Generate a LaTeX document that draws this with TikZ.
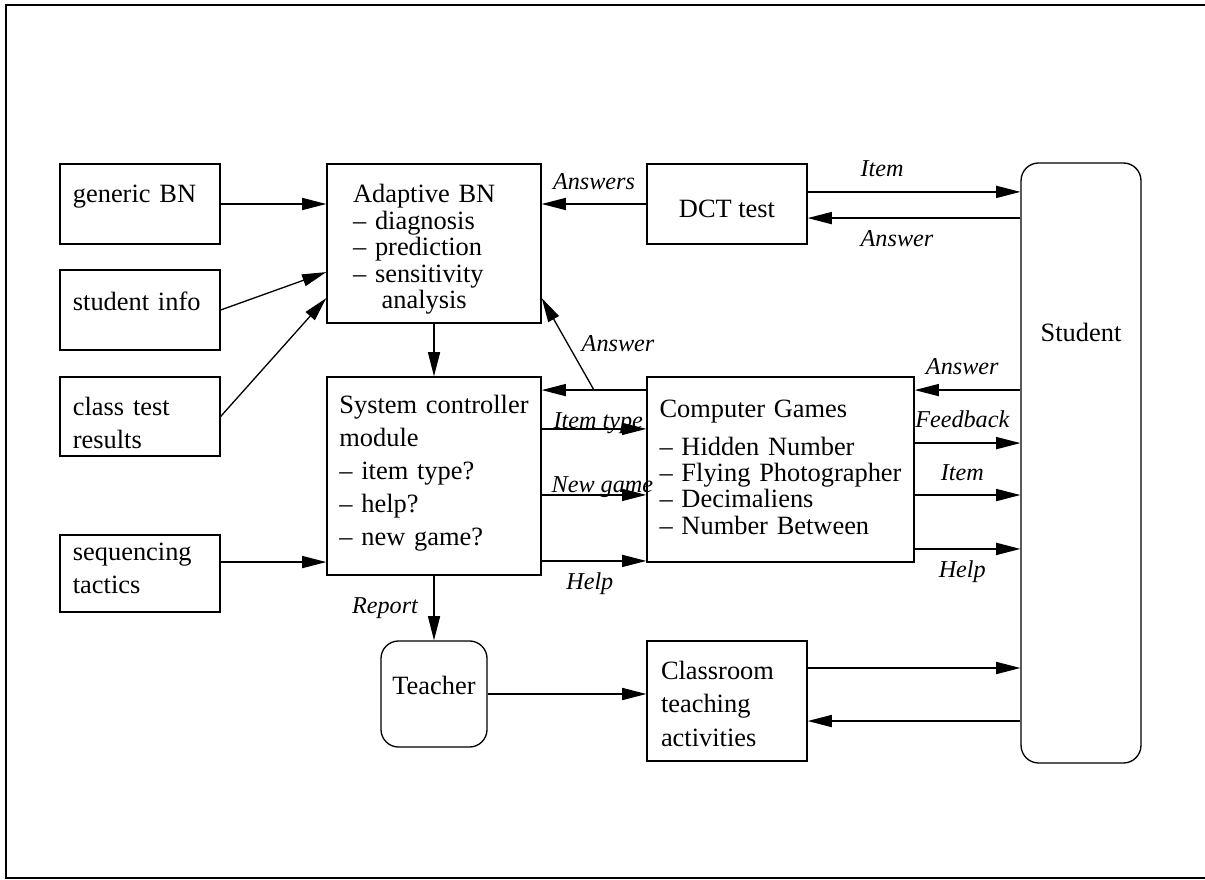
\documentclass[tikz,border=0pt]{standalone}
\usepackage{fontspec}
\setmainfont{Liberation Serif}
\usetikzlibrary{arrows.meta, calc, positioning}

\tikzset{
  box/.style={draw, rectangle, line width=0.6pt, inner xsep=0pt, inner ysep=0pt,
              align=left, text height=9pt, font=\fontsize{12}{15}\selectfont},
  tight/.style={font=\fontsize{12}{12}\selectfont},
  rbox/.style={box, rounded corners=8pt, align=center},
  arr/.style={-{Triangle[length=11pt,width=5.5pt]}, line width=0.6pt},
  lbl/.style={font=\fontsize{11}{13}\selectfont\itshape, inner sep=2pt},
}

\begin{document}
\begin{tikzpicture}[x=0.4545pt, y=-0.4545pt]
  \useasboundingbox (0,0) rectangle (1205,880);
  \clip (0,0) rectangle (1205,880);
  \draw[line width=1pt] (6,5) rectangle (1215,878);

  % inputs on the left
  \node[box, text width=61pt, minimum width=72.7pt, minimum height=36.4pt, text depth=10.8pt]
    (gbn) at (140,204) {generic BN};
  \node[box, text width=61pt, minimum width=72.7pt, minimum height=36.4pt, text depth=8.1pt]
    (info) at (140,310) {student info};
  \node[box, text width=61pt, minimum width=72.7pt, minimum height=35.9pt, text depth=9.5pt]
    (ctest) at (140,416.5) {class test\\results};
  \node[box, text width=61pt, minimum width=72.7pt, minimum height=35pt, text depth=20.4pt]
    (seq) at (140,573.5) {sequencing\\tactics};

  % middle column
  \node[box, tight, text width=73.6pt, minimum width=97.3pt, minimum height=72.3pt, text depth=45.9pt]
    (adapt) at (434,243.5) {Adaptive BN\\– diagnosis\\– prediction\\– sensitivity\\\hspace*{13pt}analysis};
  \node[box, text width=86pt, minimum width=97.3pt, minimum height=90pt, text depth=65.4pt]
    (sysc) at (434,476) {System controller\\module\\– item type?\\– help?\\– new game?};
  \node[rbox, minimum width=48.2pt, minimum height=48.2pt, text depth=9pt]
    (teach) at (434,694) {Teacher};

  % right column
  \node[box, align=center, minimum width=72.7pt, minimum height=36.4pt, text height=12.6pt, text depth=0pt]
    (dct) at (727,204) {DCT test};
  \node[box, tight, text width=110pt, minimum width=121.4pt, minimum height=84.1pt, text depth=56.7pt]
    (games) at (780.5,469.5) {Computer Games\\[5.3pt]– Hidden Number\\– Flying Photographer\\– Decimaliens\\– Number Between};
  \node[box, text width=60pt, minimum width=72.7pt, minimum height=54.5pt, text depth=28.1pt]
    (room) at (727,701) {Classroom\\teaching\\activities};
  \node[rbox, minimum width=54.5pt, minimum height=272.7pt, text depth=119pt]
    (stud) at (1081,463) {Student};

  % into the adaptive BN
  \draw[arr] (gbn.east) -- (gbn.east -| adapt.west);
  \draw[arr] (info.east) -- ([yshift=-13pt]adapt.west);
  \draw[arr] (ctest.east) -- ([yshift=-24.8pt]adapt.west);
  \draw[arr] ([yshift=5.2pt]seq.east) -- ([yshift=5.2pt]seq.east -| sysc.west);
  \draw[arr] (adapt.south) -- (sysc.north);
  \draw[arr] (dct.west) -- (dct.west -| adapt.east)
    node[lbl, midway, above=4pt] {Answers};

  % DCT test and student
  \draw[arr] ([yshift=5.5pt]dct.east) -- ([yshift=5.5pt]dct.east -| stud.west)
    node[lbl, pos=.35, above=4.8pt] {Item};
  \draw[arr] ([yshift=-6.4pt]dct.east -| stud.west) -- ([yshift=-6.4pt]dct.east)
    node[lbl, pos=.58, below=3.5pt] {Answer};

  % games back to controller and BN
  \coordinate (gans) at ([yshift=36.1pt]games.west);
  \coordinate (fork) at ($(gans)!0.5!(gans -| sysc.east)$);
  \draw[arr] (gans) -- (gans -| sysc.east);
  \draw[arr] (fork) -- ([yshift=-24.8pt]adapt.east)
    node[lbl, midway, right=4pt] {Answer};

  % controller to games
  \draw[arr] ([yshift=21.4pt]sysc.east) -- ([yshift=21.4pt]sysc.east -| games.west)
    node[lbl, pos=.54, anchor=base] {Item type};
  \draw[arr] ([yshift=-8.6pt]sysc.east) -- ([yshift=-8.6pt]sysc.east -| games.west)
    node[lbl, pos=.58, anchor=base, yshift=1pt] {New game};
  \draw[arr] ([yshift=-38.6pt]sysc.east) -- ([yshift=-38.6pt]sysc.east -| games.west)
    node[lbl, pos=.46, below=3pt] {Help};

  % games and student
  \draw[arr] ([yshift=36.1pt]games.east -| stud.west) -- ([yshift=36.1pt]games.east)
    node[lbl, pos=.55, above=4.8pt] {Answer};
  \draw[arr] ([yshift=12pt]games.east) -- ([yshift=12pt]games.east -| stud.west)
    node[lbl, pos=.45, above=4.8pt] {Feedback};
  \draw[arr] ([yshift=-11.6pt]games.east) -- ([yshift=-11.6pt]games.east -| stud.west)
    node[lbl, pos=.45, above=4pt] {Item};
  \draw[arr] ([yshift=-36.1pt]games.east) -- ([yshift=-36.1pt]games.east -| stud.west)
    node[lbl, pos=.45, below=3pt] {Help};

  % teacher and classroom
  \draw[arr] (sysc.south) -- (teach.north)
    node[lbl, midway, left=5pt] {Report};
  \draw[arr] (teach.east) -- (teach.east -| room.west);
  \draw[arr] ([yshift=15pt]room.east) -- ([yshift=15pt]room.east -| stud.west);
  \draw[arr] ([yshift=-9.1pt]room.east -| stud.west) -- ([yshift=-9.1pt]room.east);
\end{tikzpicture}
\end{document}
